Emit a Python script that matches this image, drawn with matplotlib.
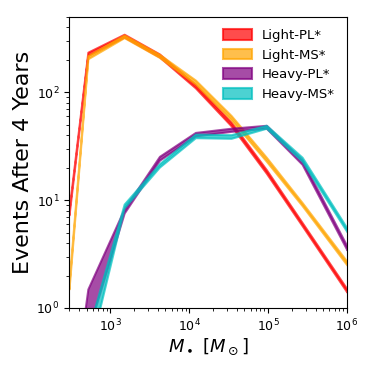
import matplotlib
matplotlib.use("Agg")
import matplotlib.pyplot as plt

# mass bins (Msun)
mass = [300, 520, 1500, 4200, 12000, 34000, 95000, 270000, 1e6]

labels = ["Light-PL*", "Light-MS*", "Heavy-PL*", "Heavy-MS*"]
colors = ["red", "orange", "purple", "c"]

light_pl_lo = [7.3, 220, 326, 213, 110, 49, 17.8, 5.8, 1.40]
light_pl_hi = [8.1, 236, 346, 227, 118, 53, 19.2, 6.2, 1.50]
light_ms_lo = [1.5, 205, 322, 211, 120, 56, 23.0, 8.9, 2.5]
light_ms_hi = [1.7, 219, 340, 225, 130, 61, 25.0, 9.5, 2.7]
heavy_pl_lo = [0.05, 0.6, 7.6, 23.5, 39.5, 43.5, 46.5, 21.5, 3.45]
heavy_pl_hi = [0.08, 1.5, 8.3, 25.5, 42.5, 46.5, 49.5, 23.5, 3.75]
heavy_ms_lo = [0.03, 0.35, 8.5, 20.3, 38.0, 37.5, 46.5, 23.0, 5.1]
heavy_ms_hi = [0.05, 0.6, 9.2, 21.8, 41.0, 40.5, 49.5, 25.0, 5.5]

lows = [light_pl_lo, light_ms_lo, heavy_pl_lo, heavy_ms_lo]
highs = [light_pl_hi, light_ms_hi, heavy_pl_hi, heavy_ms_hi]

fig = plt.figure(figsize=(3.74, 3.74), dpi=100)
ax = fig.add_axes([0.1845, 0.1765, 0.7433, 0.778])

for lo, hi, c, lab in zip(lows, highs, colors, labels):
    ax.fill_between(mass, lo, hi, color=c, alpha=0.7, lw=1.5, label=lab)

ax.set_xscale("log")
ax.set_yscale("log")
ax.set_xlim(300, 1e6)
ax.set_ylim(1, 500)
ax.tick_params(labelsize=9)
ax.set_xlabel(r"$M_\bullet\ [M_\odot]$", fontsize=13, labelpad=2)
ax.set_ylabel("Events After 4 Years", fontsize=16, labelpad=2)
ax.legend(loc="upper right", frameon=False, fontsize=9.5,
          handleheight=0.9, handlelength=2.2)

fig.savefig("out.png", dpi=100)
